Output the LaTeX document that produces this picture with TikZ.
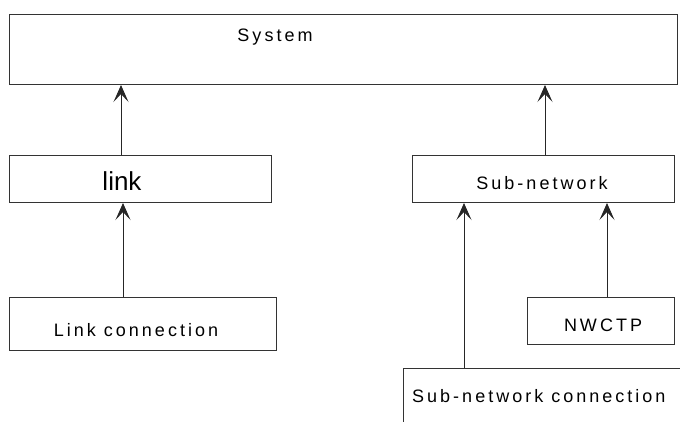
\documentclass[tikz,border=0pt]{standalone}
\usepackage{fontspec}
\setmainfont{Liberation Sans}
\newfontfamily\spacedfont[LetterSpace=16.7]{Liberation Sans}
\usetikzlibrary{arrows.meta}
\tikzset{
  boxnode/.style={draw=black!80, line width=1pt, rectangle, inner sep=0pt, anchor=north west},
  lbl/.style={font=\spacedfont\fontsize{18}{20}\selectfont, inner sep=0pt},
  biglbl/.style={font=\fontsize{26}{28}\selectfont, inner sep=0pt},
  arr/.style={draw=black!85, line width=0.9pt, -{Stealth[length=17pt,width=15pt,inset=8pt]}}
}
\begin{document}
\begin{tikzpicture}[x=1pt,y=-1pt]
\useasboundingbox (0,0) rectangle (680,421);
\fill[white] (0,0) rectangle (680,421);
% boxes
\node[boxnode, minimum width=668pt, minimum height=70pt] (sys) at (9,14) {};
\node[boxnode, minimum width=262pt, minimum height=47pt] (link) at (9,155) {};
\node[boxnode, minimum width=267pt, minimum height=53pt] (lc) at (9,297) {};
\node[boxnode, minimum width=262pt, minimum height=47pt] (sub) at (412,155) {};
\node[boxnode, minimum width=147pt, minimum height=47pt] (nw) at (527,297) {};
\begin{scope}
\clip (0,0) rectangle (680,421);
\node[boxnode, minimum width=320pt, minimum height=80pt] (snc) at (403,368) {};
\end{scope}
% texts
\node[lbl] (tsys) at (275,37) {System};
\node[biglbl] (tlink) at (122,181) {link};
\node[lbl] (tlc) at (136,330) {Link connection};
\node[lbl] (tsub) at (542,183) {Sub-network};
\node[lbl] (tnw) at (603,325) {NWCTP};
\node[lbl, anchor=west] (tsnc) at (412,396) {Sub-network connection};
% connectors
\draw[arr] ([xshift=112pt]link.north west) -- ([xshift=112pt]link.north west |- sys.south);
\draw[arr] ([xshift=133pt]sub.north west) -- ([xshift=133pt]sub.north west |- sys.south);
\draw[arr] ([xshift=114pt]lc.north west) -- ([xshift=114pt]lc.north west |- link.south);
\draw[arr] ([xshift=80pt]nw.north west) -- ([xshift=80pt]nw.north west |- sub.south);
\draw[arr] ([xshift=61pt]snc.north west) -- ([xshift=61pt]snc.north west |- sub.south);
\end{tikzpicture}
\end{document}
